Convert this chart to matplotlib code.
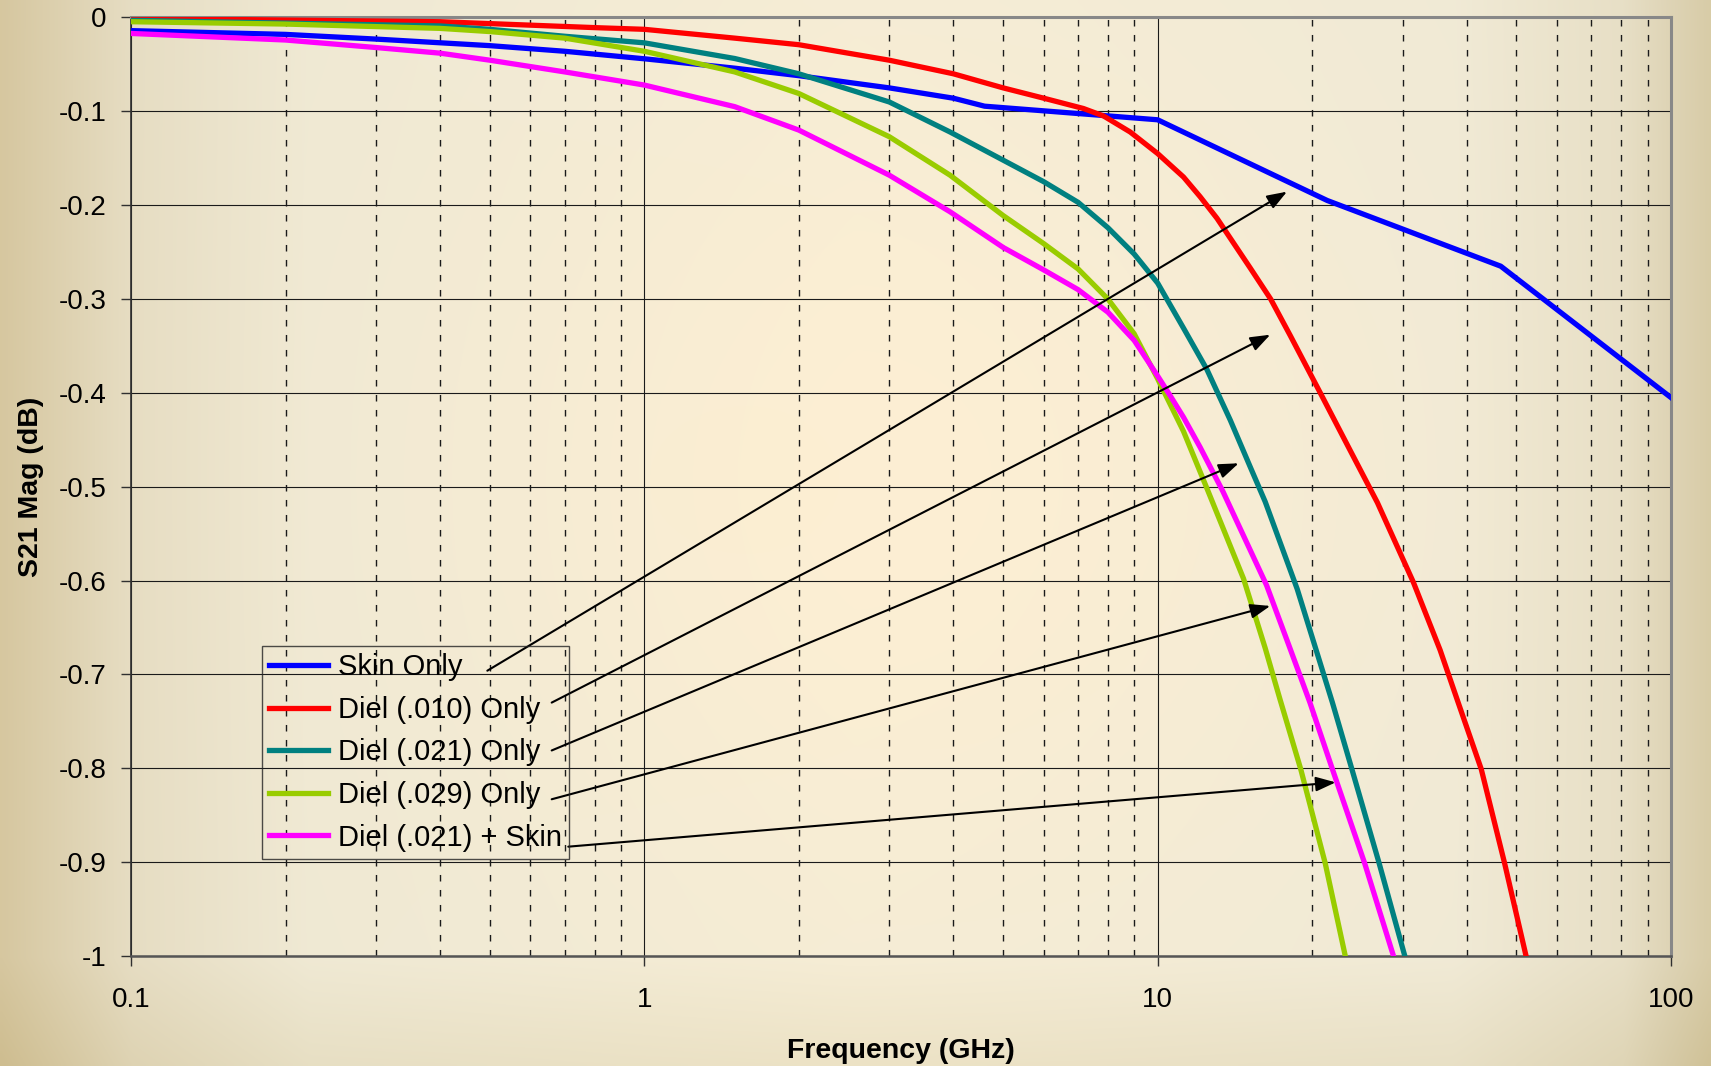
import matplotlib
matplotlib.use("Agg")
import matplotlib.pyplot as plt
import numpy as np

plt.rcParams['font.family'] = ['Liberation Sans', 'DejaVu Sans']
plt.rcParams['axes.unicode_minus'] = False

# S21 magnitude (dB) vs frequency (GHz) for each loss mechanism
skin_freq = [0.1, 0.2, 0.3, 0.5, 0.7, 1, 1.5, 2, 3, 4, 4.6, 10, 21.4, 46.6, 100]
skin_db = [-0.014, -0.018, -0.023, -0.030, -0.036, -0.044, -0.054, -0.062,
           -0.075, -0.086, -0.0945, -0.109, -0.195, -0.265, -0.405]

d010_freq = [0.1, 0.4, 0.82, 1, 1.5, 2, 3, 4, 5, 6, 7.17, 7.85, 8.84, 10,
             11.23, 12.1, 13.05, 15.15, 16.6, 18.13, 20.74, 23.7, 26.8, 31.5,
             35.5, 38.5, 42.7, 47.4, 52.2]
d010_db = [-0.001, -0.0045, -0.011, -0.0126, -0.022, -0.029, -0.0455, -0.060,
           -0.075, -0.086, -0.097, -0.105, -0.122, -0.145, -0.170, -0.191,
           -0.214, -0.267, -0.300, -0.339, -0.400, -0.461, -0.517, -0.602,
           -0.674, -0.730, -0.801, -0.901, -1.0]

d021_freq = [0.1, 0.4, 0.5, 0.7, 1, 1.5, 2, 3, 3.94, 5, 6, 7, 8, 9, 10, 11.23,
             12.47, 13.85, 15.15, 16.2, 18.7, 20.2, 21.9, 23.9, 27.0, 30.3]
d021_db = [-0.003, -0.009, -0.0126, -0.020, -0.027, -0.0437, -0.060, -0.090,
           -0.122, -0.152, -0.175, -0.197, -0.224, -0.252, -0.283, -0.331,
           -0.375, -0.429, -0.479, -0.516, -0.609, -0.668, -0.730, -0.801,
           -0.901, -1.0]

d029_freq = [0.1, 0.2, 0.4, 0.5, 0.7, 1, 1.5, 2, 3, 3.94, 5, 6, 7, 8, 9, 10,
             11.23, 12.5, 14.7, 16.2, 17.3, 19.0, 21.2, 23.2]
d029_db = [-0.0045, -0.007, -0.0116, -0.015, -0.022, -0.036, -0.058, -0.081,
           -0.127, -0.168, -0.211, -0.241, -0.268, -0.300, -0.337, -0.385,
           -0.441, -0.503, -0.598, -0.672, -0.726, -0.801, -0.901, -1.0]

d021_skin_freq = [0.1, 0.2, 0.3, 0.4, 0.5, 0.7, 1, 1.5, 2, 3, 3.94, 5, 6, 7,
                  8, 9, 10, 10.58, 11.23, 12.1, 13.4, 16.3, 18.1, 19.8, 21.9,
                  25.3, 28.8]
d021_skin_db = [-0.017, -0.024, -0.032, -0.038, -0.0455, -0.058, -0.072,
                -0.095, -0.120, -0.168, -0.207, -0.245, -0.269, -0.290,
                -0.314, -0.344, -0.382, -0.403, -0.426, -0.458, -0.505,
                -0.605, -0.672, -0.730, -0.801, -0.901, -1.0]

labels = ['Skin Only', 'Diel (.010) Only', 'Diel (.021) Only',
          'Diel (.029) Only', 'Diel (.021) + Skin']
colors = ['#0000FF', '#FF0000', '#008080', '#99CC00', '#FF00FF']

# callout arrows: (legend end) -> (curve point)
arrow_tails = [(0.4945, -0.696), (0.660, -0.730), (0.660, -0.781),
               (0.660, -0.833), (0.711, -0.8835)]
arrow_heads = [(17.86, -0.1856), (16.57, -0.338), (14.38, -0.475),
               (16.57, -0.627), (22.22, -0.815)]

y_ticks = [0, -0.1, -0.2, -0.3, -0.4, -0.5, -0.6, -0.7, -0.8, -0.9, -1]
y_tick_labels = ['0', '-0.1', '-0.2', '-0.3', '-0.4', '-0.5', '-0.6',
                 '-0.7', '-0.8', '-0.9', '-1']
x_ticks = [0.1, 1, 10, 100]
x_tick_labels = ['0.1', '1', '10', '100']

fig = plt.figure(figsize=(17.11, 10.66), dpi=100)

# beige gradient backdrop behind the whole figure
bg_ax = fig.add_axes([0, 0, 1, 1], zorder=-10)
gx = np.linspace(0, 1, 400)
gy = np.linspace(0, 1, 260)
stops = [0, 0.076, 0.18, 0.5, 0.85, 0.95, 0.977, 1]
stop_rgb = np.array([[214, 199, 160], [230, 221, 195], [239, 233, 212],
                     [243, 236, 214], [240, 234, 214], [231, 223, 198],
                     [222, 212, 182], [216, 204, 168]], dtype=float)
row = np.stack([np.interp(gx, stops, stop_rgb[:, c]) for c in range(3)], axis=-1)
img = np.repeat(row[None, :, :], len(gy), axis=0)
XX, YY = np.meshgrid(gx, gy)
glow = np.exp(-(((XX - 0.53) / 0.28) ** 2 + ((YY - 0.45) / 0.40) ** 2))
img += glow[..., None] * np.array([10, 3, -3])
shade = np.clip((YY - 0.9) / 0.1, 0, 1)
img -= shade[..., None] * np.array([8, 10, 16])
bg_ax.imshow(np.clip(img, 0, 255) / 255, aspect='auto', extent=[0, 1, 1, 0],
             interpolation='bilinear')
bg_ax.set_axis_off()

ax = fig.add_axes([0.07656, 0.10319, 0.90006, 0.8804])
ax.patch.set_alpha(0)

series = [(skin_freq, skin_db), (d010_freq, d010_db), (d021_freq, d021_db),
          (d029_freq, d029_db), (d021_skin_freq, d021_skin_db)]
for (f, v), lab, col in zip(series, labels, colors):
    ax.plot(f, v, color=col, lw=3.8, label=lab, solid_joinstyle='round',
            zorder=3)

ax.set_xscale('log')
ax.set_xlim(0.1, 100)
ax.set_ylim(-1, 0)

ax.set_xticks(x_ticks)
ax.set_xticklabels(x_tick_labels)
ax.set_yticks(y_ticks)
ax.set_yticklabels(y_tick_labels)
ax.xaxis.set_minor_locator(matplotlib.ticker.LogLocator(base=10, subs=np.arange(2, 10)))
ax.xaxis.set_minor_formatter(matplotlib.ticker.NullFormatter())

ax.tick_params(axis='both', which='major', labelsize=20, direction='out',
               length=7, width=1, color='#303030')
ax.tick_params(axis='x', which='major', pad=15)
ax.tick_params(axis='y', which='major', pad=10.5)
ax.tick_params(axis='x', which='minor', length=0)

ax.grid(True, which='major', axis='both', color='#1a1a1a', lw=0.8, zorder=1)
ax.grid(True, which='minor', axis='x', color='#1a1a1a', lw=1.0,
        linestyle=(0, (4.7, 6.1)), zorder=1)
ax.set_axisbelow(True)

for side in ['top', 'right']:
    ax.spines[side].set_color('#888888')
    ax.spines[side].set_linewidth(2.2)
ax.spines['bottom'].set_color('#555555')
ax.spines['bottom'].set_linewidth(1.8)
ax.spines['left'].set_color('#303030')
ax.spines['left'].set_linewidth(1.2)

ax.set_xlabel('Frequency (GHz)', fontsize=20.5, fontweight='bold', labelpad=18.5)
ax.set_ylabel('S21 Mag (dB)', fontsize=20.5, fontweight='bold', labelpad=11)

leg = ax.legend(loc='lower left', bbox_to_anchor=(0.085, 0.1034),
                fontsize=21, frameon=True, fancybox=False,
                handlelength=2.0, handletextpad=0.35, labelspacing=0.5,
                borderpad=0.25, borderaxespad=0)
leg.get_frame().set_facecolor('none')
leg.get_frame().set_edgecolor('#222222')
leg.get_frame().set_linewidth(1.0)
leg.set_zorder(5)

for tail, head in zip(arrow_tails, arrow_heads):
    ax.annotate('', xy=head, xytext=tail,
                arrowprops=dict(arrowstyle='-|>,head_length=0.6,head_width=0.22',
                                color='black', lw=1.5, mutation_scale=20,
                                shrinkA=0, shrinkB=0),
                zorder=4)

plt.savefig('out.png', dpi=100)
